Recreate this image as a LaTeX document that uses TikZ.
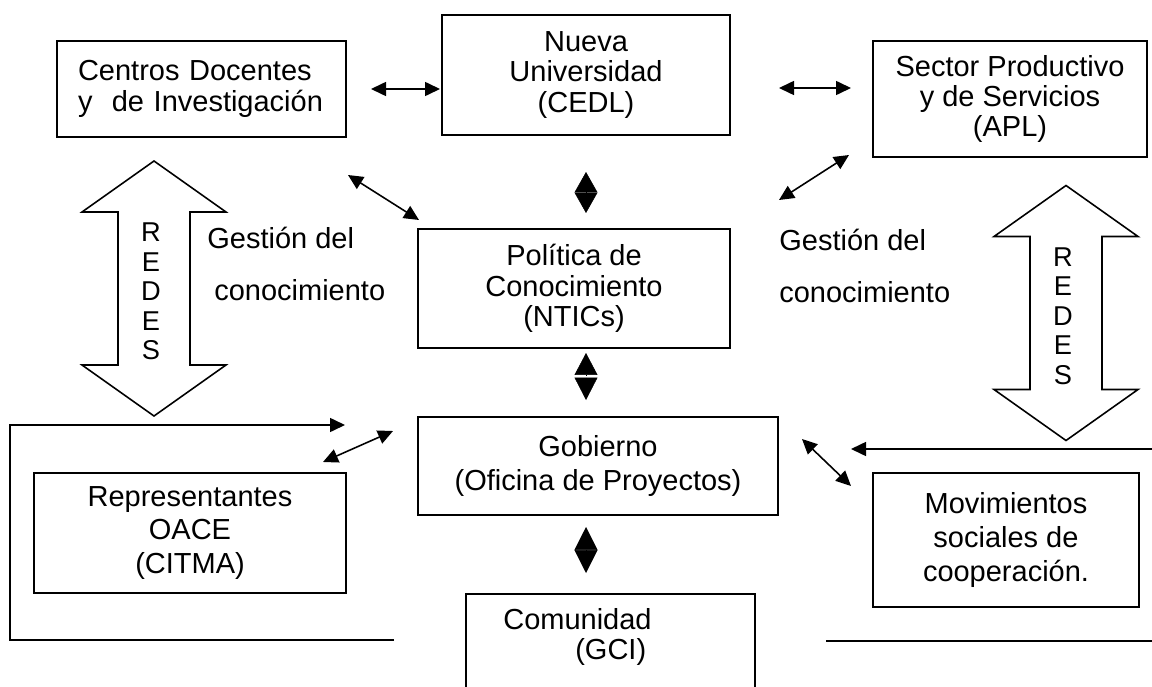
\documentclass[tikz,border=0pt]{standalone}
\usepackage{fontspec}
\setmainfont{Liberation Sans}
\usetikzlibrary{arrows.meta,positioning}

\tikzset{
	box/.style={draw, line width=1pt, align=center, inner sep=0pt, font=\fontsize{16.5}{17.35}\selectfont},
	wide/.style={font=\fontsize{16.5}{19.3}\selectfont},
	txt/.style={inner sep=0pt, font=\fontsize{16.5}{17.35}\selectfont},
	link/.style={{Triangle[length=0.3cm,width=0.28cm]}-{Triangle[length=0.3cm,width=0.28cm]}, line width=0.9pt},
	tip/.style={-{Triangle[length=0.3cm,width=0.28cm]}, line width=0.9pt},
	diam/.style={{Triangle[length=#1,width=0.46cm]}-{Triangle[length=#1,width=0.46cm]}, line width=0.3pt},
	half/.style={-{Triangle[length=#1,width=0.46cm]}, line width=0.3pt},
	redes/.pic={
		\draw[line width=0.9pt] (0,-127.5) -- (72,-76.5) -- (36,-76.5) -- (36,76.5) -- (72,76.5)
			-- (0,127.5) -- (-72,76.5) -- (-36,76.5) -- (-36,-76.5) -- (-72,-76.5) -- cycle;
		\node[txt, align=center, font=\fontsize{15.5}{16.8}\selectfont] (-letras) at (-3,3) {R\\E\\D\\E\\S};
	}
}

\begin{document}
\begin{tikzpicture}[x=0.02cm, y=-0.02cm]
	\useasboundingbox (0,0) rectangle (1152,686);
	\clip (0,0) rectangle (1152,686);
	\fill[white] (0,0) rectangle (1152,686);
	
	% cajas
	\node[box, minimum width=5.78cm, minimum height=1.92cm, text width=4.94cm, align=left] (centros) at (201.5,89) {Centros Docentes\\y\ \ de Investigación};
	\node[box, minimum width=5.76cm, minimum height=2.4cm] (nueva) at (586,75) {Nueva\\Universidad\\(CEDL)};
	\node[box, minimum width=5.48cm, minimum height=2.32cm] (sector) at (1010,99) {Sector Productivo\\y de Servicios\\(APL)};
	\node[box, minimum width=6.24cm, minimum height=2.38cm] (politica) at (574,288.5) {Política de\\Conocimiento\\(NTICs)};
	\node[box, wide, minimum width=7.2cm, minimum height=1.96cm] (gobierno) at (598,466) {Gobierno\\(Oficina de Proyectos)};
	\node[box, wide, minimum width=6.24cm, minimum height=2.4cm] (repres) at (190,533) {Representantes\\OACE\\(CITMA)};
	\node[box, wide, minimum width=5.32cm, minimum height=2.68cm] (movim) at (1006,540) {Movimientos\\sociales de\\cooperación.};
	\node[box, minimum width=5.78cm, minimum height=2.4cm, anchor=north] (comunidad) at (610.5,593) {};
	\node[txt, align=left, anchor=north west] (comtxt) at (503,608) {Comunidad\\\hspace{1.44cm}(GCI)};
	
	% textos sueltos
	\node[txt, anchor=west] (gestL) at (207,238) {Gestión del};
	\node[txt, anchor=west] (conoL) at (214,290) {conocimiento};
	\node[txt, anchor=west] (gestR) at (779,240) {Gestión del};
	\node[txt, anchor=west] (conoR) at (779,292) {conocimiento};
	
	% flechas de redes
	\pic (redesL) at (154,288.5) {redes};
	\pic (redesR) at (1066,313) {redes};
	
	% puntas de las flechas
	\coordinate (a1) at (371,89);
	\coordinate (b1) at (440,89);
	\coordinate (a2) at (779,88);
	\coordinate (b2) at (851,88);
	\coordinate (a3) at (348,175);
	\coordinate (b3) at (419,220);
	\coordinate (a4) at (779,200);
	\coordinate (b4) at (849,155);
	\coordinate (a5) at (323,462);
	\coordinate (b5) at (393,431);
	\coordinate (a6) at (802,439);
	\coordinate (b6) at (851,486);
	
	\draw[link] (a1) -- (b1);
	\draw[link] (a2) -- (b2);
	\draw[link] (a3) -- (b3);
	\draw[link] (a4) -- (b4);
	\draw[link] (a5) -- (b5);
	\draw[link] (a6) -- (b6);
	
	% rombos
	\coordinate (d1t) at (586,172);
	\coordinate (d1b) at (586,213);
	\coordinate (d2t) at (586,353);
	\coordinate (d2u) at (586,375);
	\coordinate (d2v) at (586,377.5);
	\coordinate (d2b) at (586,400);
	\coordinate (d3t) at (586,527);
	\coordinate (d3b) at (586,573);
	
	\draw[diam=0.41cm] (d1t) -- (d1b);
	\draw[half=0.44cm] (d2u) -- (d2t);
	\draw[half=0.45cm] (d2v) -- (d2b);
	\draw[diam=0.46cm] (d3t) -- (d3b);
	
	% marcos
	\coordinate (fl1) at (394,640);
	\coordinate (fl2) at (10,640);
	\coordinate (fl3) at (10,425);
	\coordinate (fl4) at (345,425);
	\draw[tip] (fl1) -- (fl2) -- (fl3) -- (fl4);
	
	\coordinate (fr1) at (826,641);
	\coordinate (fr2) at (1165,641);
	\coordinate (fr3) at (1165,449);
	\coordinate (fr4) at (851,449);
	\draw[tip] (fr1) -- (fr2) -- (fr3) -- (fr4);
\end{tikzpicture}
\end{document}
